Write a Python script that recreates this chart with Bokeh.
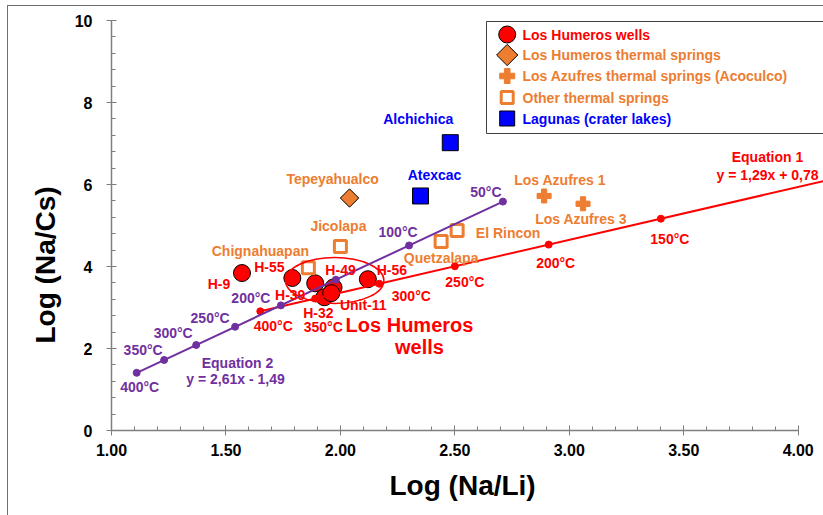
from math import pi

from bokeh.core.properties import value
from bokeh.embed import file_html
from bokeh.models import ColumnDataSource, FixedTicker, NumeralTickFormatter, Range1d, Title
from bokeh.plotting import figure
from bokeh.resources import INLINE

FONT = "Liberation Sans"
RED = "#FF0000"
ORANGE = "#ED7D31"
BLUE = "#0000FF"
PURPLE = "#7030A0"
AXIS_GREY = "#7F7F7F"

# ---------------------------------------------------------------- data
# Los Humeros geothermal wells
well_names = ["H-9", "H-55", "H-39", "H-49", "H-32", "Unit-11", "H-56"]
well_x = [1.57, 1.79, 1.89, 1.97, 1.93, 1.96, 2.12]
well_y = [3.84, 3.72, 3.59, 3.49, 3.25, 3.35, 3.69]

# Los Humeros thermal springs
lh_spring_names = ["Tepeyahualco"]
lh_spring_x = [2.04]
lh_spring_y = [5.67]

# Los Azufres thermal springs (Acoculco)
azufres_names = ["Los Azufres 1", "Los Azufres 3"]
azufres_x = [2.89, 3.06]
azufres_y = [5.72, 5.53]

# Other thermal springs
other_names = ["Chignahuapan", "Jicolapa", "Quetzalapa", "El Rincon"]
other_x = [1.86, 2.00, 2.44, 2.51]
other_y = [3.97, 4.49, 4.61, 4.88]

# Lagunas (crater lakes)
laguna_names = ["Alchichica", "Atexcac"]
laguna_x = [2.48, 2.35]
laguna_y = [7.02, 5.72]

# Equation 1: y = 1,29x + 0,78 with its temperature marks
eq1_slope, eq1_intercept = 1.29, 0.78
eq1_temps = ["400°C", "350°C", "300°C", "250°C", "200°C", "150°C"]
eq1_x = [1.65, 1.89, 2.17, 2.50, 2.91, 3.40]

# Equation 2: y = 2,61x - 1,49 with its temperature marks
eq2_slope, eq2_intercept = 2.61, -1.49
eq2_temps = ["400°C", "350°C", "300°C", "250°C", "200°C", "150°C", "100°C", "50°C"]
eq2_x = [1.11, 1.23, 1.37, 1.54, 1.74, 1.98, 2.30, 2.71]

# Axis ticks
x_ticks = [1.0, 1.5, 2.0, 2.5, 3.0, 3.5, 4.0]
y_ticks = [0, 2, 4, 6, 8, 10]

# ---------------------------------------------------------------- layout
W, H = 823, 515
FRAME_LEFT, FRAME_TOP, FRAME_BOTTOM = 111, 20, 430
X_START, Y_START, Y_END = 1.0, 0.0, 10.0
X_PX = 228.9                       # pixels per unit of Log(Na/Li)
X_END = X_START + (W - FRAME_LEFT) / X_PX
Y_PX = (FRAME_BOTTOM - FRAME_TOP) / (Y_END - Y_START)


def sx_to_x(px):
    return X_START + (px - FRAME_LEFT) / X_PX


def sy_to_y(py):
    return Y_START + (FRAME_BOTTOM - py) / Y_PX


p = figure(
    width=W, height=H, output_backend="svg", toolbar_location=None,
    x_range=Range1d(X_START, X_END), y_range=Range1d(Y_START, Y_END),
    min_border_left=FRAME_LEFT, min_border_right=0,
    min_border_top=FRAME_TOP, min_border_bottom=H - FRAME_BOTTOM,
    background_fill_color=None, border_fill_color=None, outline_line_color=None,
    styles={
        "background": (
            "linear-gradient(#6f6f6f,#6f6f6f) 7px 5px / 1px 510px no-repeat, "
            "linear-gradient(#6f6f6f,#6f6f6f) 7px 5px / 816px 1px no-repeat, white"
        )
    },
)
p.grid.visible = False

# ---------------------------------------------------------------- axes
xa = p.xaxis[0]
xa.bounds = (x_ticks[0], x_ticks[-1])
xa.ticker = FixedTicker(
    ticks=x_ticks,
    minor_ticks=[round(x_ticks[0] + 0.1 * i, 2) for i in range(31)],
)
xa.formatter = NumeralTickFormatter(format="0.00")
xa.major_label_standoff = 8

ya = p.yaxis[0]
ya.bounds = (y_ticks[0], y_ticks[-1])
ya.ticker = FixedTicker(
    ticks=y_ticks,
    minor_ticks=[round(0.4 * i, 2) for i in range(26)],
)
ya.major_label_standoff = 14

for ax in (xa, ya):
    ax.axis_line_color = AXIS_GREY
    ax.axis_line_width = 1.5
    ax.major_tick_line_color = AXIS_GREY
    ax.minor_tick_line_color = AXIS_GREY
    ax.major_tick_in = 5
    ax.major_tick_out = 5
    ax.minor_tick_in = 4
    ax.minor_tick_out = 0
    ax.major_label_text_font = FONT
    ax.major_label_text_font_style = "bold"
    ax.major_label_text_font_size = "16px"
    ax.major_label_text_color = "black"

# Axis titles, placed a little off-centre along the frame
p.add_layout(Title(text="Log (Na/Li)", align="left", offset=278, standoff=18,
                   text_color="black", text_font=FONT, text_font_style="bold",
                   text_font_size="28px"),
             "below")
p.add_layout(Title(text="Log (Na/Cs)", align="left", offset=87, standoff=22,
                   text_color="black", text_font=FONT, text_font_style="bold",
                   text_font_size="28px"),
             "left")

# ---------------------------------------------------------------- markers
p.scatter(well_x, well_y, marker="circle", size=17,
          fill_color=RED, line_color="black", line_width=1)
p.scatter(lh_spring_x, lh_spring_y, marker="square", angle=pi / 4, size=13,
          fill_color=ORANGE, line_color="black", line_width=1)
p.scatter(azufres_x, azufres_y, marker="plus", size=14,
          fill_color=ORANGE, line_color=ORANGE, line_width=1)
p.scatter(other_x, other_y, marker="square", size=12,
          fill_color="white", line_color=ORANGE, line_width=3)
p.scatter(laguna_x, laguna_y, marker="square", size=16,
          fill_color=BLUE, line_color="black", line_width=1)

# Los Humeros wells field outline
field_x, field_y, field_w, field_h = 1.975, 3.66, 0.43, 1.12
p.ellipse(x=[field_x], y=[field_y], width=[field_w], height=[field_h],
          fill_color=None, line_color=RED, line_width=1.5)

# ---------------------------------------------------------------- equations
eq1_y = [eq1_slope * x + eq1_intercept for x in eq1_x]
line1_x = [eq1_x[0], X_END]
p.line(line1_x, [eq1_slope * x + eq1_intercept for x in line1_x],
       line_color=RED, line_width=2)
p.scatter(eq1_x, eq1_y, marker="circle", size=7, fill_color=RED, line_color=RED)

eq2_y = [eq2_slope * x + eq2_intercept for x in eq2_x]
p.line([eq2_x[0], eq2_x[-1]],
       [eq2_y[0], eq2_y[-1]], line_color=PURPLE, line_width=2)
p.scatter(eq2_x, eq2_y, marker="circle", size=7, fill_color=PURPLE, line_color=PURPLE)


# ---------------------------------------------------------------- labels
def point_labels(xs, ys, texts, dx, dy, color, size="14px"):
    keep = [i for i, t in enumerate(texts) if dx[i] is not None]
    src = ColumnDataSource(dict(
        x=[xs[i] for i in keep], y=[ys[i] for i in keep],
        text=[texts[i] for i in keep],
        dx=[dx[i] for i in keep], dy=[dy[i] for i in keep],
    ))
    p.text(x="x", y="y", text="text", x_offset="dx", y_offset="dy", source=src,
           text_color=color, text_font=value(FONT), text_font_style="bold",
           text_font_size=size, text_align="center", text_baseline="middle")


point_labels(well_x, well_y, well_names,
             [-23, -23, -25, 7, -6, 32, 24], [11, -11, 12, -17, 16, 12, -9], RED)
point_labels(lh_spring_x, lh_spring_y, lh_spring_names, [-17], [-19], ORANGE)
point_labels(azufres_x, azufres_y, azufres_names, [16, -2], [-16, 15], ORANGE)
point_labels(other_x, other_y, other_names, [-48, -2, 0, 51], [-17, -20, 17, 3], ORANGE)
point_labels(laguna_x, laguna_y, laguna_names, [-32, 14], [-24, -21], BLUE)
point_labels(eq1_x, eq1_y, eq1_temps,
             [13, 8, 32, 10, 7, 9], [15, 28, 12, 16, 18, 20], RED)
point_labels(eq2_x, eq2_y, eq2_temps,
             [3, -21, -23, -25, -30, None, -11, -17],
             [14, -10, -12, -9, -7, None, -13, -10], PURPLE)


def free_text(px, py, text, color, size="14px"):
    p.text(x=[sx_to_x(px)], y=[sy_to_y(py)], text=[text], text_color=color,
           text_font=value(FONT), text_font_style="bold", text_font_size=size,
           text_align="center", text_baseline="middle")


free_text(767, 156.5, "Equation 1", RED)
free_text(767, 174.5, "y = 1,29x + 0,78", RED)
free_text(237, 362.3, "Equation 2", PURPLE)
free_text(235, 378.3, "y = 2,61x - 1,49", PURPLE)
free_text(409, 324, "Los Humeros", RED, "20px")
free_text(419, 346.5, "wells", RED, "20px")

# ---------------------------------------------------------------- legend
LEG_LEFT, LEG_TOP, LEG_BOTTOM = 486, 21, 133
LEG_GLYPH_X, LEG_TEXT_X = 506.7, 522
leg_rows = [34, 54.5, 75.5, 97, 118]
lx0, lx1 = sx_to_x(LEG_LEFT), X_END + 0.2
ly0, ly1 = sy_to_y(LEG_BOTTOM), sy_to_y(LEG_TOP)
p.quad(left=[lx0], right=[lx1], top=[ly1], bottom=[ly0],
       fill_color="white", line_color=None)
p.multi_line(xs=[[lx1, lx0, lx0, lx1]], ys=[[ly1, ly1, ly0, ly0]],
             line_color="#404040", line_width=1)

gx = sx_to_x(LEG_GLYPH_X)
ly = [sy_to_y(r) for r in leg_rows]
p.scatter([gx], [ly[0]], marker="circle", size=17,
          fill_color=RED, line_color="black", line_width=1)
p.scatter([gx], [ly[1]], marker="square", angle=pi / 4, size=15,
          fill_color=ORANGE, line_color="black", line_width=1)
p.scatter([gx], [ly[2]], marker="plus", size=15,
          fill_color=ORANGE, line_color=ORANGE, line_width=1)
p.scatter([gx], [ly[3]], marker="square", size=12,
          fill_color="white", line_color=ORANGE, line_width=3)
p.scatter([gx], [ly[4]], marker="square", size=15,
          fill_color=BLUE, line_color="black", line_width=1)

leg_src = ColumnDataSource(dict(
    x=[sx_to_x(LEG_TEXT_X)] * 5, y=ly,
    text=["Los Humeros wells", "Los Humeros thermal springs",
          "Los Azufres thermal springs (Acoculco)", "Other thermal springs",
          "Lagunas (crater lakes)"],
    color=[RED, ORANGE, ORANGE, ORANGE, BLUE],
))
p.text(x="x", y="y", text="text", text_color="color", source=leg_src,
       text_font=value(FONT), text_font_style="bold", text_font_size="14px",
       text_align="left", text_baseline="middle")

open("out.html", "w").write(file_html(p, INLINE))
